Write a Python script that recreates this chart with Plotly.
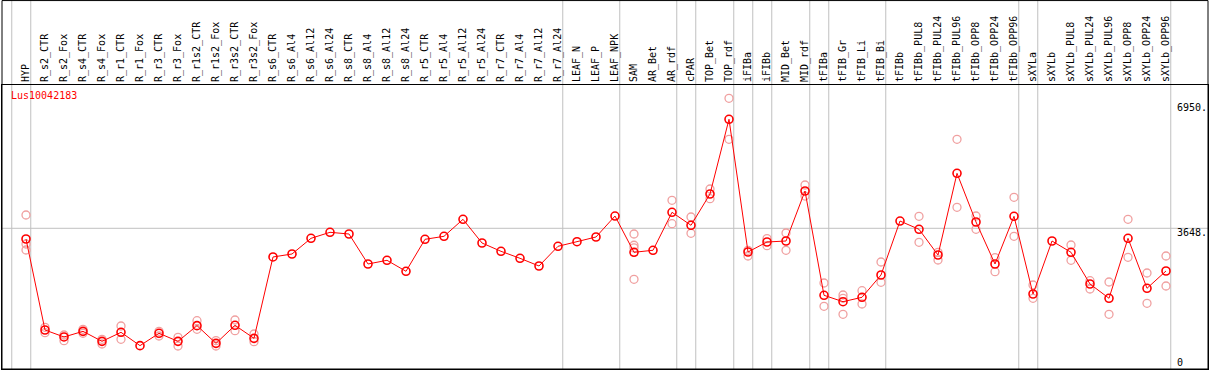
import plotly.graph_objects as go

categories = [
    "HYP", "R_s2_CTR", "R_s2_Fox", "R_s4_CTR", "R_s4_Fox", "R_r1_CTR", "R_r1_Fox",
    "R_r3_CTR", "R_r3_Fox", "R_r1s2_CTR", "R_r1s2_Fox", "R_r3s2_CTR", "R_r3s2_Fox",
    "R_s6_CTR", "R_s6_Al4", "R_s6_Al12", "R_s6_Al24", "R_s8_CTR", "R_s8_Al4",
    "R_s8_Al12", "R_s8_Al24", "R_r5_CTR", "R_r5_Al4", "R_r5_Al12", "R_r5_Al24",
    "R_r7_CTR", "R_r7_Al4", "R_r7_Al12", "R_r7_Al24", "LEAF_N", "LEAF_P", "LEAF_NPK",
    "SAM", "AR_Bet", "AR_rdf", "cPAR", "TOP_Bet", "TOP_rdf", "iFIBa", "iFIBb",
    "MID_Bet", "MID_rdf", "tFIBa", "tFIB_Gr", "tFIB_Li", "tFIB_Bi", "tFIBb",
    "tFIBb_PUL8", "tFIBb_PUL24", "tFIBb_PUL96", "tFIBb_OPP8", "tFIBb_OPP24",
    "tFIBb_OPP96", "sXYLa", "sXYLb", "sXYLb_PUL8", "sXYLb_PUL24", "sXYLb_PUL96",
    "sXYLb_OPP8", "sXYLb_OPP24", "sXYLb_OPP96",
]

means = [
    3365, 961, 777, 926, 662, 900, 548, 874, 662, 1076, 609, 1085, 741,
    2890, 2969, 3383, 3542, 3497, 2705, 2802, 2512, 3357, 3436, 3885, 3259,
    3040, 2855, 2652, 3172, 3294, 3418, 3972,
    3014, 3067, 4070, 3727, 4554, 6527, 3022, 3286, 3312, 4633,
    1878, 1709, 1825, 2414, 3840, 3621, 2942, 5100, 3814, 2705, 3964,
    1912, 3312, 3014, 2176, 1799, 3383, 2063, 2520,
]

replicates = [
    [3999, 3233, 3075], [1033, 890], [829, 680], [979, 874], [715, 591],
    [1067, 715], [], [926, 803], [768, 539], [1207, 979], [680, 539],
    [1225, 944], [856, 654],
    [], [], [], [], [], [], [], [], [], [], [], [], [], [], [], [], [], [], [],
    [3497, 3200, 3130, 2300], [], [4387, 3769], [3946, 3515], [4686, 4430],
    [7081, 5998], [3067, 2916], [3374, 3188], [3523, 3067], [4791, 4500],
    [2203, 1587], [1886, 1799, 1376], [2000, 1648], [2758, 2221], [],
    [3964, 3278], [3014, 2810], [5998, 4202], [3972, 3621], [2871, 2501],
    [4466, 3436],
    [2150, 1799], [], [3206, 2802], [2264, 2044], [2229, 1376], [3885, 2882],
    [2467, 1667], [2916, 2124],
]

group_ends = [-1, 0, 28, 31, 34, 35, 37, 38, 39, 41, 42, 45, 52, 53, 60]
y_ticks = [0, 3648, 6950]
y_tick_text = ["0", "3648.", "6950."]
gene = "Lus10042183"

xs = list(range(len(categories)))
rep_x, rep_y = [], []
for i, reps in enumerate(replicates):
    for v in reps:
        rep_x.append(i)
        rep_y.append(v)

MONO = "DejaVu Sans Mono"
fig = go.Figure()
fig.add_trace(go.Scatter(
    x=rep_x, y=rep_y, mode="markers",
    marker=dict(symbol="circle-open", size=8, color="#f0a0a0", line=dict(width=1.3)),
    showlegend=False, hoverinfo="y",
))
fig.add_trace(go.Scatter(
    x=xs, y=means, mode="lines+markers",
    line=dict(color="#ff0000", width=1),
    marker=dict(symbol="circle-open", size=8, color="#ff0000", line=dict(width=1.6)),
    showlegend=False,
))

top_paper = 1 + 85 / 284
shapes = []
for g in group_ends:
    shapes.append(dict(type="line", xref="x", yref="paper", x0=g + 0.25, x1=g + 0.25,
                       y0=0, y1=top_paper, line=dict(color="#c0c0c0", width=1), layer="below"))
shapes.append(dict(type="line", xref="paper", yref="y", x0=0, x1=1, y0=3648, y1=3648,
                   line=dict(color="#c0c0c0", width=1), layer="below"))
shapes.append(dict(type="rect", xref="paper", yref="paper", x0=0, x1=1, y0=0, y1=top_paper - 0.002,
                   line=dict(color="black", width=1)))
fig.update_layout(shapes=shapes)

annotations = [dict(x=-0.9, y=1, xref="x", yref="paper", text=gene, showarrow=False,
                    xanchor="left", yanchor="top", yshift=-3,
                    font=dict(family=MONO, size=10, color="#ff0000"))]
y_shifts = {0: -4, 3648: 3, 6950: 3}
for v, t in zip(y_ticks, y_tick_text):
    annotations.append(dict(x=60.45, y=v, xref="x", yref="y", text=t, showarrow=False,
                            xanchor="left", yanchor="bottom" if v == 0 else "top",
                            yshift=y_shifts[v],
                            font=dict(family=MONO, size=10, color="black")))
fig.update_layout(annotations=annotations)

fig.update_layout(
    width=1209, height=370,
    margin=dict(l=2, r=1, t=85, b=1),
    paper_bgcolor="white", plot_bgcolor="white",
    xaxis=dict(side="top", range=[-1.263, 62.21], tickmode="array", tickvals=xs,
               ticktext=categories, tickangle=-90, showgrid=False, zeroline=False,
               ticks="", tickfont=dict(family=MONO, size=10, color="black"),
               showline=True, mirror=True, linecolor="black", linewidth=1),
    yaxis=dict(range=[-69, 7433], showgrid=False, zeroline=False, showticklabels=False,
               ticks="", showline=True, mirror=True, linecolor="black", linewidth=1),
)

fig.write_html(
    "out.html",
    config={"displayModeBar": False},
    post_script="document.body.style.margin='0';document.body.style.padding='0';"
                "document.body.style.overflow='hidden';",
)
